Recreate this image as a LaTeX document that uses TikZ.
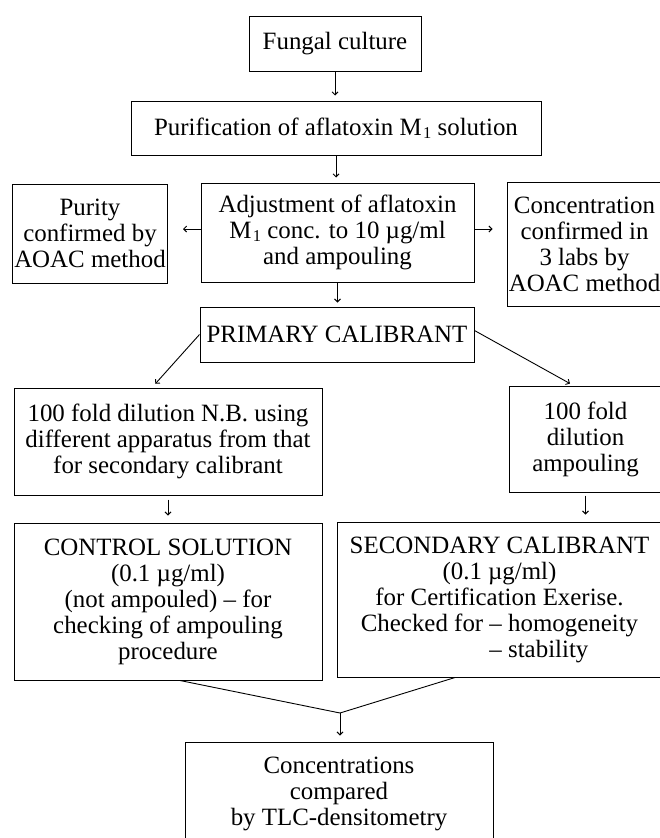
\documentclass[tikz,border=0pt]{standalone}
\usepackage{fontspec}
\usepackage{calc}
\setmainfont{Liberation Serif}
\usetikzlibrary{arrows.meta}
\newcommand{\Msub}{M\kern1.5pt\raisebox{-0.28ex}{\fontsize{16.5}{16.5}\selectfont 1}}
\begin{document}
\begin{tikzpicture}[x=1pt,y=-1pt,
  box/.style={draw, line width=1pt, inner sep=0pt, align=center,
    font=\fontsize{24.9}{26}\selectfont},
  arr/.style={line width=0.9pt, -{Straight Barb[length=3pt,width=6pt]}},
  ln/.style={line width=0.9pt}]
\useasboundingbox (0,0) rectangle (660,838);
\fill[white] (0,0) rectangle (660,838);
\node[box, minimum width=172pt, minimum height=55pt] (fungal) at (335,43.5) {Fungal culture};
\node[box, minimum width=410pt, minimum height=54pt] (purif) at (336,128) {Purification of aflatoxin \Msub\ solution};
\node[box, minimum width=273pt, minimum height=99pt] (adjust) at (337.5,232.5) {Adjustment of aflatoxin\\ \Msub\ conc. to 10 µg/ml\\ and ampouling};
\node[box, minimum width=155pt, minimum height=99pt] (purity) at (90,233.5) {Purity\\ confirmed by\\ AOAC method};
\node[box, minimum width=155pt, minimum height=124pt] (conc) at (584.5,244) {Concentration\\ confirmed in\\ 3 labs by\\ AOAC method};
\node[box, minimum width=274pt, minimum height=55pt] (primary) at (337,334.5) {PRIMARY CALIBRANT};
\node[box, minimum width=308pt, minimum height=107pt] (dil1) at (168,441.5) {100 fold dilution N.B. using\\ different apparatus from that\\ for secondary calibrant};
\node[box, minimum width=153pt, minimum height=106pt] (dil2) at (585.5,439) {100 fold\\ dilution\\ ampouling};
\node[box, minimum width=308pt, minimum height=157pt] (control) at (168,601.5) {CONTROL SOLUTION\\ (0.1 µg/ml)\\ (not ampouled) -- for\\ checking of ampouling\\ procedure};
\node[box, minimum width=325pt, minimum height=155pt] (secondary) at (499.5,599.5) {SECONDARY CALIBRANT\\ (0.1 µg/ml)\\ for Certification Exerise.\\ Checked for -- homogeneity\\ \makebox[\widthof{Checked for -- homogeneity}][l]{\phantom{Checked for }-- stability}};
\node[box, minimum width=308pt, minimum height=104pt] (final) at (339,794) {Concentrations\\ compared\\ by TLC-densitometry};
\coordinate (m) at (340,713);
% connectors
\draw[arr, shorten >=5pt] (fungal.south) -- (fungal.south |- purif.north);
\draw[arr, shorten >=5pt] (purif.south) -- (purif.south |- adjust.north);
\draw[arr, shorten >=15pt] ([yshift=3.5pt]adjust.west) -- ([yshift=3.5pt]adjust.west -| purity.east);
\draw[arr, shorten >=14pt] ([yshift=3.5pt]adjust.east) -- ([yshift=3.5pt]adjust.east -| conc.west);
\draw[arr, shorten >=4pt] (adjust.south) -- (adjust.south |- primary.north);
\draw[arr, shorten >=5pt] (primary.west) -- ([xshift=-16pt]dil1.north);
\draw[arr, shorten >=4pt] ([yshift=4pt]primary.east) -- ([xshift=-12pt]dil2.north);
\draw[arr, shorten <=4pt, shorten >=7pt] (dil1.south) -- (control.north);
\draw[arr, shorten <=3pt, shorten >=7pt] (dil2.south) -- (dil2.south |- secondary.north);
\draw[ln] ([xshift=12pt]control.south) -- (m) -- ([xshift=-44.5pt]secondary.south);
\draw[arr, shorten >=6pt] (m) -- (m |- final.north);
\end{tikzpicture}
\end{document}
